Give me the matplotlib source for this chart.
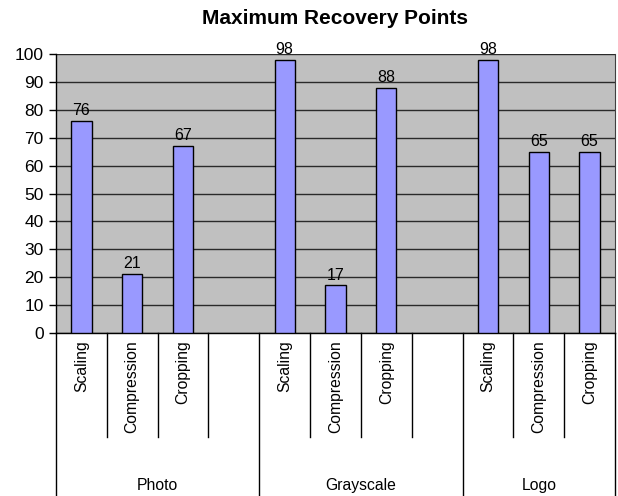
import matplotlib
matplotlib.use("Agg")
import matplotlib.pyplot as plt
from matplotlib.transforms import blended_transform_factory

plt.rcParams['font.family'] = ['Liberation Sans', 'DejaVu Sans']

title = "Maximum Recovery Points"
groups = ["Photo", "Grayscale", "Logo"]
methods = ["Scaling", "Compression", "Cropping"]
photo_values = [76, 21, 67]
grayscale_values = [98, 17, 88]
logo_values = [98, 65, 65]
y_ticks = list(range(0, 101, 10))

group_values = [photo_values, grayscale_values, logo_values]

W, H = 618, 496
fig = plt.figure(figsize=(W / 100, H / 100), dpi=100)
left, right, top, bottom = 56, 615, 54.3, 332.7
ax = fig.add_axes([left / W, 1 - bottom / H, (right - left) / W, (bottom - top) / H])
ax.set_facecolor('#C0C0C0')

# slot layout: each group gets its methods plus one empty slot, except the last
slots = []
pos = 0
group_spans = []
for gi, (g, vals) in enumerate(zip(groups, group_values)):
    start = pos
    for m, v in zip(methods, vals):
        slots.append((pos, m, v))
        pos += 1
    if gi < len(groups) - 1:
        slots.append((pos, "", None))
        pos += 1
    group_spans.append((start, pos, g))
n_slots = pos

ax.set_xlim(0, n_slots)
ax.set_ylim(0, 100)
ax.set_yticks(y_ticks)
ax.tick_params(axis='y', labelsize=12.5, length=5, width=1, pad=4, color='black')
ax.set_xticks([])
ax.yaxis.grid(True, color='#2a2a2a', linewidth=1.0)
ax.set_axisbelow(True)
ax.spines['top'].set_visible(False)
ax.spines['right'].set_color('#404040')
ax.spines['right'].set_linewidth(0.8)
ax.spines['left'].set_linewidth(1)
ax.spines['bottom'].set_linewidth(1)

for p, m, v in slots:
    if v is None:
        continue
    ax.bar(p + 0.5, v, width=0.4, color='#9999FF', edgecolor='black', linewidth=1.0, zorder=3)
    ax.annotate(str(v), (p + 0.5, v), xytext=(0, 2), textcoords='offset points',
                ha='center', va='bottom', fontsize=11.5, zorder=4)

tr = blended_transform_factory(ax.transData, ax.transAxes)
axh = bottom - top
inner_bottom = -(437 - bottom) / axh
outer_bottom = -(H + 2 - bottom) / axh

# method labels and separators
for p, m, v in slots:
    if m:
        ax.text(p + 0.5, -(7.5 / axh), m, transform=tr, rotation=90,
                ha='center', va='top', fontsize=11.3)
for x in range(1, n_slots):
    if any(x == s for s, e, g in group_spans):
        continue
    ax.plot([x, x], [0, inner_bottom], transform=tr, color='black', lw=1, clip_on=False)

# group labels and boundaries
bounds = sorted({s for s, e, g in group_spans} | {e for s, e, g in group_spans})
for x in bounds:
    ax.plot([x, x], [0, outer_bottom], transform=tr, color='black', lw=1, clip_on=False)
for s, e, g in group_spans:
    ax.text((s + e) / 2, -(485.7 - bottom) / axh, g, transform=tr,
            ha='center', va='center', fontsize=11.3)

fig.text((left + right) / 2 / W, 1 - 18 / H, title, ha='center', va='center',
         fontsize=15, fontweight='bold')

fig.savefig('out.png', dpi=100)
